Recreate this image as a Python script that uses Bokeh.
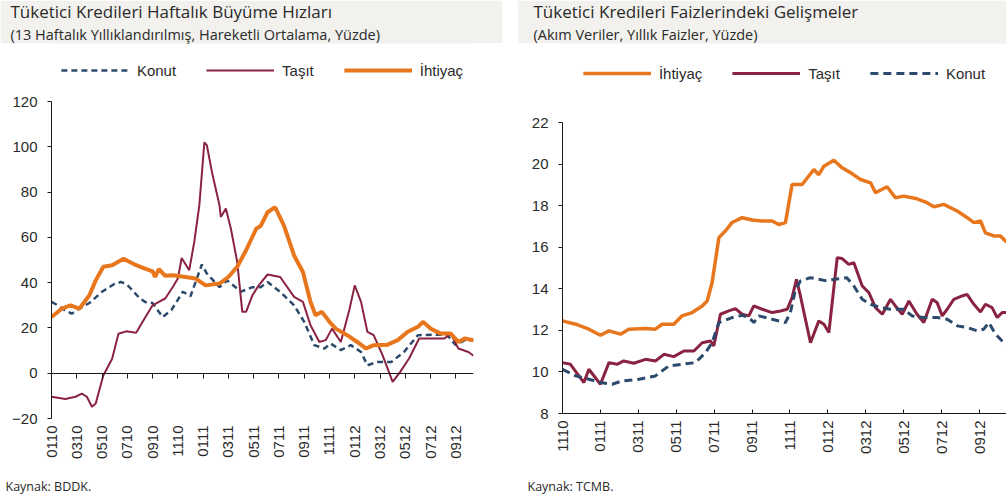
from math import pi
from bokeh.plotting import figure
from bokeh.layouts import row, column
from bokeh.models import (Range1d, FixedTicker, LinearAxis, Legend, LegendItem, Title)
from bokeh.embed import file_html
from bokeh.resources import INLINE

# ---------------- Left chart: weekly growth rates (month index from Jan 2010)
left_tick_labels = ["0110", "0310", "0510", "0710", "0910", "1110", "0111", "0311",
                    "0511", "0711", "0911", "1111", "0112", "0312", "0512", "0712", "0912"]
left_yticks = [-20, 0, 20, 40, 60, 80, 100, 120]

konut_l_m = [0, 0.5, 1.0, 1.6, 2.2, 3, 4, 5, 5.5, 6, 7, 7.4, 8, 8.8, 9.5, 10.4, 11, 11.9, 12.3,
             13.3, 13.9, 15, 15.9, 16.55, 17.1, 18.1, 19.2, 20, 20.8, 21.6, 22.1, 22.9, 23.7,
             24.5, 25, 25.8, 26.9, 27.9, 29, 30.3, 31.3, 32, 32.7, 33.4]
konut_l_v = [31.5, 30, 28, 26.3, 28.5, 31, 36, 39.5, 40.3, 39, 33, 31.5, 31, 24.8, 28, 36, 34,
             48, 44, 38, 41, 36, 38, 38, 40.3, 35.9, 30, 22.7, 12.4, 10.9, 13.1, 10.2, 12.4,
             9.4, 3.5, 5, 5, 9.4, 16.8, 17, 17, 12.4, 14.6, 14.6]

tasit_l_m = [0, 1.1, 1.9, 2.4, 2.8, 3.2, 3.5, 4.1, 4.8, 5.3, 5.9, 6.7, 7.2, 8.0, 8.5, 9.0, 9.6,
             10.0, 10.3, 10.9, 11.3, 11.7, 12.1, 12.3, 12.7, 13.3, 13.4, 13.8, 14.2, 14.7, 15.1,
             15.4, 15.9, 16.4, 17.1, 18.1, 19.2, 19.9, 20.5, 21.2, 21.7, 22.2, 22.9, 23.6, 24.0,
             24.5, 25.0, 25.5, 26.2, 27.0, 27.6, 28.3, 29.1, 30.0, 31.1, 31.6, 32.2, 33.0, 33.4]
tasit_l_v = [-10.4, -11.4, -10.4, -9, -10.4, -14.8, -13.4, -1, 6.4, 17.4, 18.5, 17.9, 22.6, 30,
             31.5, 33, 38.1, 41.8, 50.9, 45.5, 58, 74.1, 102, 100.6, 88.8, 74.1, 69, 72.7, 63.8,
             49.1, 27.1, 27.1, 34.4, 38.8, 43.6, 42.5, 33.7, 31.5, 21.2, 13.8, 14.6, 19.7, 13.8,
             28.6, 38.8, 31.5, 18.3, 16.8, 8, -3.8, 0.6, 6.5, 15.3, 15.3, 15.3, 17.5, 10.9, 9.4, 7.7]

ihtiyac_l_m = [0, 0.8, 1.5, 2.2, 3.0, 3.5, 4.1, 4.8, 5.7, 6.7, 7.4, 8.0, 8.2, 8.5, 9.0, 9.6, 10.6,
               11.4, 12.2, 13.3, 14.0, 14.7, 15.4, 16.2, 16.55, 17.1, 17.7, 18.4, 19.2, 19.9,
               20.5, 20.9, 21.4, 22.0, 22.5, 23.4, 24.2, 24.9, 25.5, 26.6, 27.4, 28.2, 29.0,
               29.4, 30.0, 30.8, 31.6, 32.2, 32.7, 33.4]
ihtiyac_l_v = [24.8, 28.5, 30, 28.5, 34.4, 41, 47, 47.7, 50.6, 47.7, 46.2, 45, 42.5, 46, 43,
               43.3, 42.5, 41.8, 38.8, 39.6, 42.5, 47, 54.3, 63.8, 65, 71.1, 73.3, 65.2, 52, 44.7,
               31.5, 25.6, 27.1, 22.7, 19.7, 16.8, 13.8, 10.9, 12.4, 12.6, 14.6, 18.3, 20.5,
               22.7, 19.7, 17.5, 17.5, 13.8, 15.3, 14.6]

# ---------------- Right chart: interest rates (month index from Nov 2010)
right_tick_labels = ["1110", "0111", "0311", "0511", "0711", "0911", "1111", "0112",
                     "0312", "0512", "0712", "0912"]
right_yticks = [8, 10, 12, 14, 16, 18, 20, 22]

ihtiyac_r_m = [0, 0.7, 1.39, 2.0, 2.45, 3.06, 3.5, 4.38, 4.9, 5.26, 5.87, 6.3, 6.84, 7.37, 7.63,
               7.89, 8.25, 8.6, 8.95, 9.48, 10.0, 10.53, 11.06, 11.41, 11.76, 12.11, 12.64,
               13.26, 13.52, 13.79, 14.31, 14.75, 15.19, 15.72, 16.25, 16.51, 17.12, 17.56,
               18.0, 18.7, 19.23, 19.59, 20.11, 20.82, 21.35, 21.7, 22.05, 22.31, 22.75, 23.1, 23.42]
ihtiyac_r_v = [12.46, 12.3, 12.06, 11.77, 11.98, 11.82, 12.06, 12.09, 12.06, 12.3, 12.3, 12.7,
               12.86, 13.18, 13.42, 14.3, 16.47, 16.8, 17.2, 17.43, 17.32, 17.27, 17.27, 17.1,
               17.19, 19.03, 19.03, 19.75, 19.5, 19.91, 20.2, 19.83, 19.6, 19.27, 19.11, 18.63,
               18.92, 18.39, 18.47, 18.34, 18.15, 17.96, 18.07, 17.75, 17.43, 17.19, 17.27,
               16.7, 16.55, 16.55, 16.26]

tasit_r_m = [0, 0.42, 1.13, 1.39, 2.0, 2.45, 2.88, 3.23, 3.76, 4.38, 4.9, 5.35, 5.87, 6.4, 6.93,
             7.37, 7.81, 7.98, 8.33, 8.77, 9.12, 9.48, 9.83, 10.09, 10.53, 11.06, 11.5, 11.85,
             12.11, 12.34, 12.55, 13.08, 13.52, 13.79, 14.05, 14.49, 14.75, 15.1, 15.37, 15.81,
             16.16, 16.51, 16.87, 17.3, 17.56, 17.92, 18.27, 18.7, 19.06, 19.5, 19.76, 20.03,
             20.29, 20.64, 21.08, 21.34, 21.7, 22.05, 22.31, 22.66, 22.93, 23.19, 23.42]
tasit_r_v = [10.45, 10.37, 9.49, 10.13, 9.41, 10.45, 10.37, 10.53, 10.42, 10.61, 10.53, 10.85,
             10.74, 11.01, 11.01, 11.41, 11.49, 11.25, 12.78, 12.94, 13.05, 12.78, 12.7, 13.18,
             13.02, 12.86, 12.94, 13.02, 13.58, 14.46, 13.66, 11.41, 12.46, 12.3, 11.9, 15.5,
             15.46, 15.18, 15.26, 14.14, 13.82, 13.1, 12.78, 13.5, 13.18, 12.78, 13.42, 12.78,
             12.38, 13.5, 13.34, 12.7, 13.02, 13.5, 13.66, 13.74, 13.26, 12.89, 13.26, 13.1,
             12.62, 12.86, 12.86]

konut_r_m = [0, 0.7, 1.39, 2.0, 2.62, 3.15, 4.03, 4.9, 5.61, 6.31, 7.01, 7.54, 7.89, 8.25, 8.95,
             9.48, 9.83, 10.09, 10.36, 11.06, 11.76, 12.02, 12.29, 12.55, 13.08, 13.96, 14.31,
             15.0, 15.37, 15.81, 16.25, 16.78, 17.3, 18.0, 18.44, 19.06, 19.76, 20.29, 20.82,
             21.35, 21.87, 22.22, 22.49, 22.84, 23.28, 23.42]
konut_r_v = [10.13, 9.81, 9.65, 9.49, 9.41, 9.57, 9.65, 9.81, 10.29, 10.37, 10.45, 10.93,
             11.41, 12.38, 12.62, 12.73, 12.62, 12.38, 12.7, 12.54, 12.38, 12.86, 13.98, 14.38,
             14.54, 14.38, 14.46, 14.54, 14.14, 13.5, 13.26, 13.1, 13.02, 13.02, 12.7, 12.62,
             12.62, 12.54, 12.22, 12.14, 11.98, 12.06, 12.38, 11.82, 11.41, 11.33]

# ---------------- styling
BAND = "#f2f1ed"
AXIS = "#1a1a1a"
TXT = "#2a2a2a"
C_KONUT = "#2c4a6b"
C_TASIT = "#8a2341"
C_IHT = "#e8761c"
TICK_FONT = "Liberation Sans"
HEAD_FONT = "Open Sans"


def text_strip(width, height, mb_left, mb_right, mb_top, fill, titles):
    """A small figure holding only title texts (header band or source line)."""
    h = figure(width=width, height=height, title=None, x_range=Range1d(0, 1),
               y_range=Range1d(0, 1), x_axis_type=None, y_axis_type=None,
               toolbar_location=None, output_backend="svg",
               min_border_left=mb_left, min_border_right=mb_right,
               min_border_top=mb_top, min_border_bottom=0,
               background_fill_color=fill, border_fill_color=fill,
               outline_line_color=None)
    for t in titles:
        h.add_layout(t, "above")
    return h


def head_title(text, size, off):
    return Title(text=text, align="left", offset=off, standoff=0, text_font=HEAD_FONT,
                 text_font_size=size, text_font_style="normal", text_color=TXT)


def style_y(ax):
    ax.axis_line_color = AXIS
    ax.major_tick_line_color = AXIS
    ax.major_tick_out = 4
    ax.major_tick_in = 0
    ax.minor_tick_line_color = None
    ax.major_label_text_font = TICK_FONT
    ax.major_label_text_font_size = "15px"
    ax.major_label_text_color = TXT
    ax.major_label_standoff = 10


def make_legend(items, margin):
    return Legend(items=items, orientation="horizontal", location="top_center",
                  glyph_width=68, glyph_height=14, label_standoff=8, spacing=30,
                  border_line_color=None, background_fill_alpha=0,
                  label_text_font=TICK_FONT, label_text_font_size="15px",
                  label_text_color=TXT, padding=2, margin=margin, label_height=18)


def x_label_axis(ticks, labels, line_color, tick_in):
    return LinearAxis(ticker=FixedTicker(ticks=ticks),
                      major_label_overrides={t: s for t, s in zip(ticks, labels)},
                      major_label_orientation=pi / 2, axis_line_color=line_color,
                      major_tick_line_color=line_color, major_tick_in=tick_in,
                      major_tick_out=0, minor_tick_line_color=None,
                      major_label_standoff=7, major_label_text_font=TICK_FONT,
                      major_label_text_font_size="15px", major_label_text_color=TXT)


# ---------------- left main figure (frame extends up to hold the legend)
p1 = figure(width=502, height=432, title=None, x_range=Range1d(0, 33.4),
            y_range=Range1d(-20, 139), x_axis_type=None, y_axis_type=None,
            toolbar_location=None, output_backend="svg", min_border_left=51,
            min_border_right=29, min_border_top=15, min_border_bottom=57,
            outline_line_color=None)

yax1 = LinearAxis(ticker=FixedTicker(ticks=left_yticks), bounds=(-20, 120))
style_y(yax1)
p1.add_layout(yax1, "left")

left_xticks = [2 * i for i in range(len(left_tick_labels))]
p1.add_layout(x_label_axis(left_xticks, left_tick_labels, None, 0), "below")

# axis line crossing at zero, with its ticks (labels are shown by the axis below)
zero_ax = LinearAxis(fixed_location=0, ticker=FixedTicker(ticks=left_xticks),
                     major_label_text_color=None, major_label_text_font_size="1px",
                     major_label_standoff=0, axis_line_color=AXIS,
                     major_tick_line_color=AXIS, major_tick_out=5, major_tick_in=0,
                     minor_tick_line_color=None)
p1.add_layout(zero_ax, "below")

rk1 = p1.line(konut_l_m, konut_l_v, color=C_KONUT, line_width=2.5, line_dash="6 4")
rt1 = p1.line(tasit_l_m, tasit_l_v, color=C_TASIT, line_width=2)
ri1 = p1.line(ihtiyac_l_m, ihtiyac_l_v, color=C_IHT, line_width=4)

p1.add_layout(make_legend([LegendItem(label="Konut", renderers=[rk1]),
                           LegendItem(label="Taşıt", renderers=[rt1]),
                           LegendItem(label="İhtiyaç", renderers=[ri1])], 3))

# ---------------- right main figure (frame extends up to hold the legend)
p2 = figure(width=489, height=432, title=None, x_range=Range1d(0, 23.42),
            y_range=Range1d(8, 25.0), x_axis_type=None, y_axis_type=None,
            toolbar_location=None, output_backend="svg", min_border_left=45,
            min_border_right=0, min_border_top=17, min_border_bottom=62,
            outline_line_color=None)

yax2 = LinearAxis(ticker=FixedTicker(ticks=right_yticks), bounds=(8, 22))
style_y(yax2)
p2.add_layout(yax2, "left")

right_xticks = [2 * i for i in range(len(right_tick_labels))]
p2.add_layout(x_label_axis(right_xticks, right_tick_labels, AXIS, 4), "below")

ri2 = p2.line(ihtiyac_r_m, ihtiyac_r_v, color=C_IHT, line_width=3.5)
rt2 = p2.line(tasit_r_m, tasit_r_v, color=C_TASIT, line_width=3)
rk2 = p2.line(konut_r_m, konut_r_v, color=C_KONUT, line_width=3, line_dash="8 5")

p2.add_layout(make_legend([LegendItem(label="İhtiyaç", renderers=[ri2]),
                           LegendItem(label="Taşıt", renderers=[rt2]),
                           LegendItem(label="Konut", renderers=[rk2])], 4))

# ---------------- header bands and source lines
h1 = text_strip(502, 43, 51, 29, 3, BAND, [
    head_title("(13 Haftalık Yıllıklandırılmış, Hareketli Ortalama, Yüzde)", "14.5px", -41),
    head_title("Tüketici Kredileri Haftalık Büyüme Hızları", "17px", -41)])
h2 = text_strip(489, 43, 45, 0, 3, BAND, [
    head_title("(Akım Veriler, Yıllık Faizler, Yüzde)", "14.5px", -29),
    head_title("Tüketici Kredileri Faizlerindeki Gelişmeler", "17px", -29)])
f1 = text_strip(502, 25, 51, 29, 4, "white",
                [head_title("Kaynak: BDDK.", "12.5px", -46)])
f2 = text_strip(489, 25, 45, 0, 4, "white",
                [head_title("Kaynak: TCMB.", "12.5px", -35)])

layout = row(column(h1, p1, f1), column(h2, p2, f2), spacing=15)

open("out.html", "w").write(file_html(layout, INLINE))
